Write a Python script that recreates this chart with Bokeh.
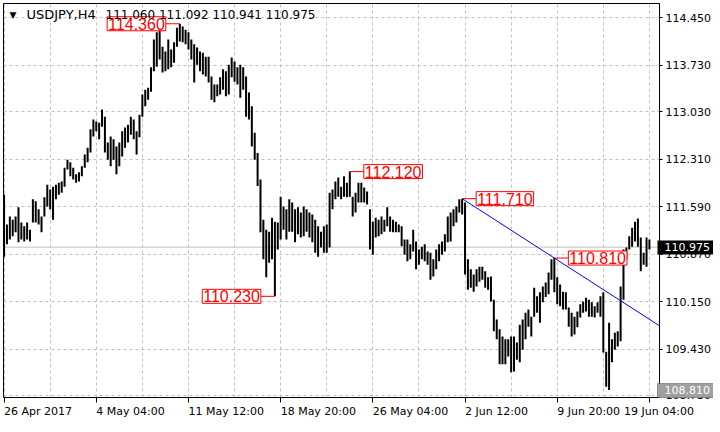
import numpy as np
from bokeh.plotting import figure
from bokeh.models import (Range1d, FixedTicker, PrintfTickFormatter, Label, Span,
                          CustomJSTickFormatter, LinearAxis)
from bokeh.embed import file_html
from bokeh.resources import INLINE

# ---------------- data ----------------
symbol = "USDJPY,H4"
last_bar_ohlc = [111.060, 111.092, 110.941, 110.975]

highs = [
    111.77, 111.32, 111.44, 111.39, 111.44, 111.58, 111.35, 111.29, 111.35, 111.24,
    111.70, 111.67, 111.55, 111.44, 111.73, 111.92, 111.85, 111.89, 111.92, 111.95,
    111.97, 112.18, 112.30, 112.26, 112.18, 112.08, 112.11, 112.20, 112.38, 112.48,
    112.76, 112.91, 112.88, 112.86, 113.06, 112.95, 112.56, 112.65, 112.61, 112.50,
    112.56, 112.73, 112.79, 112.83, 112.95, 112.91,
    112.73, 112.98, 113.29, 113.36, 113.39, 113.70, 114.12, 114.23, 114.25, 114.01,
    113.94, 114.12, 113.97, 114.08, 114.30, 114.36, 114.32, 114.27, 114.23, 114.12,
    114.05, 114.00, 113.94, 113.92, 113.86, 113.86, 113.56, 113.44, 113.44, 113.55,
    113.67, 113.64, 113.74, 113.85, 113.79, 113.70, 113.74, 113.70, 113.56, 113.32,
    113.11, 112.71, 112.40,
    112.00, 111.39, 111.24, 111.21, 111.42, 111.36, 111.35, 111.74, 111.59, 111.55,
    111.70, 111.65, 111.55, 111.58, 111.50, 111.59, 111.55, 111.50, 111.47, 111.39,
    111.29, 111.21, 111.29, 111.32, 111.80, 111.85, 111.97, 112.03, 111.89, 112.05,
    111.95, 112.12, 111.74, 111.80, 111.95, 111.95, 111.88, 111.82, 111.55, 111.36,
    111.42, 111.39, 111.44, 111.39, 111.58,
    111.44, 111.39, 111.36, 111.32, 111.29, 111.09, 111.09, 111.02, 111.24, 111.06,
    110.94, 110.98, 111.02, 110.91, 110.89, 110.79, 110.94, 111.02, 111.06, 111.17,
    111.44, 111.50, 111.55, 111.59, 111.70, 111.71, 111.65, 110.79, 110.64, 110.56,
    110.64, 110.68, 110.68, 110.61, 110.52, 110.53, 110.18, 109.88, 109.73, 109.62,
    109.58, 109.58, 109.62, 109.62, 109.53,
    109.80, 109.88, 109.98, 110.03, 109.92, 110.36, 110.23, 110.29, 110.38, 110.44,
    110.59, 110.79, 110.81, 110.52, 110.41, 110.30, 110.29, 110.06, 109.98, 109.92,
    110.00, 110.11, 110.15, 110.21, 110.18, 110.14, 110.08, 110.14, 110.23, 110.29,
    109.39, 109.83, 109.58, 109.68, 109.70, 110.38, 110.94, 110.97, 111.14, 111.27,
    111.36, 111.41, 111.12, 110.89, 111.12, 111.092,
]

lows = [
    110.83, 111.02, 111.09, 111.14, 111.20, 111.05, 111.09, 111.06, 111.09, 111.06,
    111.35, 111.35, 111.32, 111.20, 111.44, 111.59, 111.55, 111.39, 111.70, 111.77,
    111.80, 111.89, 112.15, 112.05, 112.00, 111.95, 111.97, 112.05, 112.18, 112.26,
    112.41, 112.65, 112.73, 112.61, 112.80, 112.41, 112.30, 112.20, 112.30, 112.08,
    112.20, 112.35, 112.48, 112.56, 112.68, 112.61,
    112.38, 112.64, 112.95, 113.11, 113.21, 113.33, 113.64, 113.71, 113.82, 113.62,
    113.64, 113.67, 113.70, 113.77, 114.01, 114.09, 114.08, 114.05, 113.97, 113.82,
    113.47, 113.74, 113.64, 113.59, 113.56, 113.47, 113.21, 113.17, 113.26, 113.29,
    113.36, 113.26, 113.29, 113.55, 113.48, 113.44, 113.24, 113.36, 112.95, 112.91,
    112.50, 112.30, 111.90,
    111.20, 110.79, 110.52, 110.74, 110.79, 110.23, 110.94, 111.09, 111.24, 111.09,
    111.21, 111.21, 111.05, 111.17, 111.12, 111.14, 111.21, 111.12, 111.05, 110.89,
    110.83, 110.97, 110.89, 110.89, 110.97, 111.55, 111.70, 111.74, 111.70, 111.74,
    111.73, 111.74, 111.44, 111.50, 111.65, 111.65, 111.65, 111.62, 110.94, 110.86,
    111.12, 111.14, 111.17, 111.21, 111.29,
    111.21, 111.20, 111.20, 111.20, 110.99, 110.86, 110.76, 110.79, 110.91, 110.64,
    110.71, 110.79, 110.76, 110.71, 110.48, 110.53, 110.64, 110.76, 110.86, 110.91,
    111.05, 111.06, 111.29, 111.35, 111.50, 111.47, 110.56, 110.33, 110.36, 110.30,
    110.38, 110.45, 110.48, 110.36, 110.33, 110.15, 109.70, 109.58, 109.20, 109.20,
    109.20, 109.32, 109.08, 109.09, 109.27,
    109.23, 109.42, 109.58, 109.77, 109.62, 109.92, 109.98, 109.83, 110.14, 110.22,
    110.26, 110.48, 110.29, 110.11, 110.08, 110.03, 110.03, 109.77, 109.62, 109.65,
    109.76, 109.91, 109.98, 110.00, 109.92, 109.92, 109.91, 109.98, 109.92, 109.38,
    108.86, 108.81, 109.23, 109.42, 109.47, 109.55, 110.18, 110.79, 110.94, 110.98,
    111.06, 110.98, 110.61, 110.71, 110.68, 110.941,
]

y_tick_values = [114.450, 113.730, 113.030, 112.310, 111.590, 110.870, 110.150, 109.430, 108.730]
x_tick_bars = [0, 32, 64, 96, 128, 160, 192, 224]
x_tick_labels = ["26 Apr 2017", "4 May 04:00", "11 May 12:00", "18 May 20:00",
                 "26 May 04:00", "2 Jun 12:00", "9 Jun 20:00", "19 Jun 04:00"]
grid_step_bars = 16

marked_prices = [114.360, 112.120, 110.230, 111.710, 110.810]
marked_kinds = ["high", "high", "low", "high", "high"]
marked_sides = ["left", "right", "left", "right", "right"]
trend_prices = [111.710, 110.810]

# ---------------- geometry ----------------
FW, FH = 656, 394
RIGHT_BORDER = 53
x0r, x1r = -0.2, 227.5
y0r, y1r = 108.697, 114.667
ppb = FW / (x1r - x0r)
ppy = FH / (y1r - y0r)

AXIS_FONT = "DejaVu Sans"
AXIS_SIZE = 11
# DejaVu Sans advance widths (em) used to left-align the time labels on their ticks
char_em = {" ": 0.318, ":": 0.337, ".": 0.318, "A": 0.684, "p": 0.635, "r": 0.411,
           "M": 0.863, "a": 0.613, "y": 0.592, "J": 0.295, "u": 0.634, "n": 0.634}


def text_px(s, size):
    return sum(char_em.get(c, 0.636) for c in s) * size


highs_a = np.array(highs)
lows_a = np.array(lows)
idx = np.arange(len(highs_a))

p = figure(frame_width=FW, frame_height=FH,
           x_range=Range1d(x0r, x1r), y_range=Range1d(y0r, y1r),
           y_axis_location="right", output_backend="svg", toolbar_location=None,
           min_border_left=3, min_border_top=3, min_border_right=RIGHT_BORDER,
           min_border_bottom=20)
p.background_fill_color = "white"
p.border_fill_color = "white"
p.outline_line_color = "black"
p.outline_line_alpha = 1.0
p.outline_line_width = 1

# right price axis
p.yaxis.ticker = FixedTicker(ticks=y_tick_values)
p.yaxis.formatter = PrintfTickFormatter(format="%.3f")
p.yaxis.major_tick_in = 0
p.yaxis.major_tick_out = 3
p.yaxis.minor_tick_out = 0
p.yaxis.minor_tick_in = 0
p.yaxis.major_label_standoff = 3
p.yaxis.major_label_text_font = AXIS_FONT
p.yaxis.major_label_text_font_size = f"{AXIS_SIZE}px"
p.yaxis.major_label_text_color = "black"
p.yaxis.axis_line_color = "black"
p.yaxis.major_tick_line_color = "black"

# price boxes (bid = black, marked low = gray) drawn as wide ticks of one extra price
# axis stacked after the main one (main axis extent measured at about 56.5 px)
main_extent = 3 + 3 + text_px("114.450", AXIS_SIZE) + 5
low_price = float(lows_a.min())
box_in = int(round(main_extent))
box_axis = LinearAxis(ticker=FixedTicker(ticks=[last_bar_ohlc[3], low_price],
                                         minor_ticks=[low_price]),
                      formatter=PrintfTickFormatter(format="%.3f"),
                      axis_line_color=None,
                      major_tick_in=box_in, major_tick_out=2,
                      major_tick_line_color="black", major_tick_line_width=14,
                      minor_tick_in=box_in, minor_tick_out=2,
                      minor_tick_line_color="#a0a0a0", minor_tick_line_width=14,
                      major_label_standoff=int(round(7 - main_extent - 2)),
                      major_label_text_color="white", major_label_text_font=AXIS_FONT,
                      major_label_text_font_size=f"{AXIS_SIZE}px")
p.add_layout(box_axis, "right")

# bottom time axis: tick marks (minor ticks) on the bars, labels (major) starting at them
label_centers = []
for b, t in zip(x_tick_bars, x_tick_labels):
    w = text_px(t, AXIS_SIZE)
    cpx = min((b - x0r) * ppb + w / 2, FW - 0.5)
    label_centers.append(x0r + cpx / ppb)
p.xaxis.ticker = FixedTicker(ticks=label_centers, minor_ticks=x_tick_bars)
p.xaxis.formatter = CustomJSTickFormatter(args=dict(labels=x_tick_labels),
                                          code="return labels[index];")
p.xaxis.axis_line_color = None
p.xaxis.major_tick_in = 0
p.xaxis.major_tick_out = 0
p.xaxis.minor_tick_in = 0
p.xaxis.minor_tick_out = 5
p.xaxis.minor_tick_line_color = "black"
p.xaxis.major_label_standoff = 2
p.xaxis.major_label_text_font = AXIS_FONT
p.xaxis.major_label_text_font_size = f"{AXIS_SIZE}px"
p.xaxis.major_label_text_color = "black"

# grid
p.xgrid.ticker = FixedTicker(ticks=list(range(0, int(x1r) + 1, grid_step_bars)))
p.ygrid.ticker = FixedTicker(ticks=y_tick_values)
for g in (p.xgrid, p.ygrid):
    g.grid_line_color = "#c0c0c0"
    g.grid_line_dash = "3 3"
    g.grid_line_width = 1

# bid line
p.add_layout(Span(location=last_bar_ohlc[3], dimension="width", line_color="#c0c0c0",
                  line_width=1, level="underlay"))

# OHLC bars (high-low)
p.segment(x0=idx, y0=lows_a, x1=idx, y1=highs_a, line_color="black", line_width=2)

# trend line
i1 = int(np.where(np.isclose(highs_a, trend_prices[0]))[0][0])
i2 = int(np.where(np.isclose(highs_a, trend_prices[1]))[0][0])
slope = (trend_prices[1] - trend_prices[0]) / (i2 - i1)
p.segment(x0=[i1], y0=[trend_prices[0]], x1=[x1r], y1=[trend_prices[0] + slope * (x1r - i1)],
          line_color="#0000ff", line_width=1)

# marked price labels
gap = 14 / ppb
for v, kind, side in zip(marked_prices, marked_kinds, marked_sides):
    arr = highs_a if kind == "high" else lows_a
    i = int(np.where(np.isclose(arr, v))[0][0])
    xe = i + gap if side == "right" else i - gap
    p.segment(x0=[i], y0=[v], x1=[xe], y1=[v], line_color="#ff0000", line_width=1)
    p.add_layout(Label(x=xe, y=v, text=f"{v:.3f}", text_align="left" if side == "right" else "right",
                       text_baseline="middle", text_font="Liberation Sans", text_font_size="16px",
                       text_color="#ff0000", background_fill_color="white",
                       border_line_color="#ff0000", border_line_width=1, padding=1))

# title
p.add_layout(Label(x=x0r + 6 / ppb, y=y1r - 11 / ppy, text="\u25bc", text_align="left",
                   text_baseline="middle", text_font="DejaVu Sans", text_font_size="9px",
                   text_color="black"))
p.add_layout(Label(x=x0r + 23 / ppb, y=y1r - 11 / ppy, text=symbol, text_align="left",
                   text_baseline="middle", text_font="DejaVu Sans", text_font_size="13px",
                   text_color="black"))
p.add_layout(Label(x=x0r + 102 / ppb, y=y1r - 11 / ppy,
                   text=" ".join(f"{v:.3f}" for v in last_bar_ohlc), text_align="left",
                   text_baseline="middle", text_font="DejaVu Sans", text_font_size="12px",
                   text_color="black"))

open("out.html", "w").write(file_html(p, INLINE))
